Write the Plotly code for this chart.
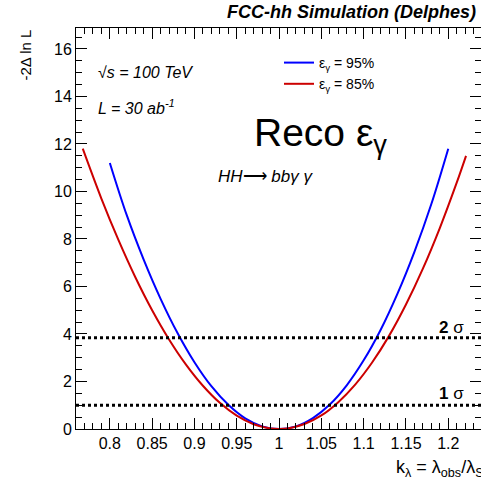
import plotly.graph_objects as go

# ---- data ----
blue_x = [0.80, 0.82, 0.84, 0.86, 0.88, 0.90, 0.92, 0.94, 0.96, 0.98, 1.00,
          1.02, 1.04, 1.06, 1.08, 1.10, 1.12, 1.14, 1.16, 1.18, 1.20]
blue_y = [11.20, 9.00, 7.13, 5.48, 4.04, 2.81, 1.80, 1.02, 0.45, 0.11, 0.00,
          0.11, 0.46, 1.03, 1.84, 2.89, 4.17, 5.70, 7.46, 9.47, 11.80]

red_x = [0.768, 0.79, 0.81, 0.83, 0.85, 0.87, 0.89, 0.91, 0.93, 0.95, 0.97, 0.99, 1.00,
         1.01, 1.03, 1.05, 1.07, 1.09, 1.11, 1.13, 1.15, 1.17, 1.19, 1.21, 1.221]
red_y = [11.80, 9.70, 7.97, 6.40, 5.00, 3.77, 2.71, 1.82, 1.10, 0.56, 0.20, 0.02, 0.00,
         0.02, 0.21, 0.57, 1.13, 1.87, 2.80, 3.92, 5.24, 6.75, 8.46, 10.37, 11.50]

series_names = ["ε<sub>γ</sub> = 95%", "ε<sub>γ</sub> = 85%"]
sigma_levels = [3.84, 1.0]
sigma_labels = ["<b>2</b> σ", "<b>1</b> σ"]

x_range = [0.76, 1.2387]
y_range = [0.0, 16.88]

FONT = "Liberation Sans"
W, H = 481, 479
L, R, T, B = 76, 0, 28, 50
PW, PH = W - L - R, H - T - B


def px(p):
    return (p - L) / PW


def py(q):
    return (H - B - q) / PH


fig = go.Figure()
fig.add_trace(go.Scatter(x=blue_x, y=blue_y, mode="lines", name=series_names[0],
                         line=dict(color="#0000ff", width=2, shape="spline")))
fig.add_trace(go.Scatter(x=red_x, y=red_y, mode="lines", name=series_names[1],
                         line=dict(color="#cc0000", width=2, shape="spline")))

for lvl in sigma_levels:
    fig.add_shape(type="line", xref="paper", yref="y", x0=0, x1=1, y0=lvl, y1=lvl,
                  line=dict(color="black", width=3, dash="dot"), layer="above")

ann = []
ann.append(dict(text="<b><i>FCC-hh Simulation (Delphes)</i></b>", x=px(478), y=py(12),
                xanchor="right", yanchor="middle", font=dict(size=18)))
ann.append(dict(text="-2Δ ln L", x=px(25), y=py(28), textangle=-90,
                xanchor="center", yanchor="top", font=dict(size=15)))
ann.append(dict(text="k<sub>λ</sub> = λ<sub>obs</sub>/λ<sub>SM</sub>", x=px(394), y=py(468),
                xanchor="left", yanchor="middle", font=dict(size=18)))
ann.append(dict(text="<i>√s = 100 TeV</i>", x=px(96), y=py(72),
                xanchor="left", yanchor="middle", font=dict(size=16)))
ann.append(dict(text="<i>L = 30 ab<sup>-1</sup></i>", x=px(96), y=py(107),
                xanchor="left", yanchor="middle", font=dict(size=16)))
ann.append(dict(text="Reco ε<sub>γ</sub>", x=px(252), y=py(135),
                xanchor="left", yanchor="middle", font=dict(size=39)))
ann.append(dict(text="<i>HH</i>⟶ <i>bbγ γ</i>", x=px(216), y=py(177),
                xanchor="left", yanchor="middle", font=dict(size=17)))
for lvl, lab, yc in zip(sigma_levels, sigma_labels, [327, 393]):
    ann.append(dict(text=lab, x=px(466), y=py(yc), xanchor="right", yanchor="middle",
                    font=dict(size=17)))
for a in ann:
    a.update(xref="paper", yref="paper", showarrow=False)
    a["font"].update(family=FONT, color="black")

axis_common = dict(showgrid=False, zeroline=False, showline=True, linecolor="black",
                   linewidth=1, mirror="ticks", ticks="inside", tickcolor="black",
                   tickwidth=1, tickfont=dict(family=FONT, size=16, color="black"))

fig.update_layout(
    width=W, height=H,
    margin=dict(l=L, r=R, t=T, b=B),
    paper_bgcolor="white", plot_bgcolor="white",
    font=dict(family=FONT, color="black"),
    annotations=ann,
    legend=dict(x=px(279), y=py(47), xanchor="left", yanchor="top",
                bgcolor="rgba(0,0,0,0)", font=dict(family=FONT, size=14, color="black")),
    xaxis=dict(range=x_range, dtick=0.05, tick0=0.8, ticklen=11,
               minor=dict(dtick=0.01, ticklen=6, ticks="inside", tickcolor="black"),
               **axis_common),
    yaxis=dict(range=y_range, dtick=2, tick0=0, ticklen=11,
               minor=dict(dtick=0.5, ticklen=6, ticks="inside", tickcolor="black"),
               **axis_common),
)

fig.write_html("out.html")
